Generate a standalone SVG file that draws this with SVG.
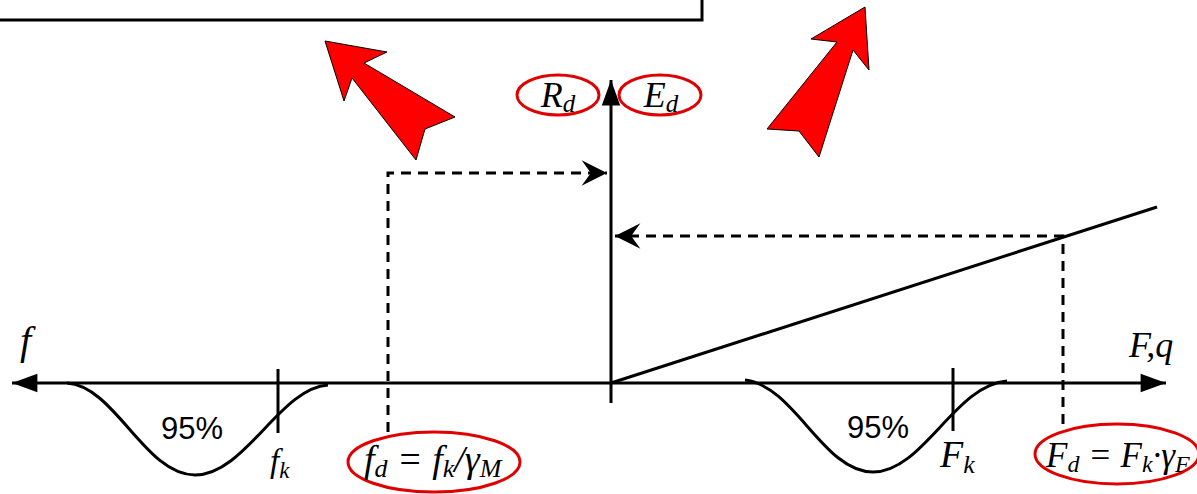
<svg xmlns="http://www.w3.org/2000/svg" width="1197" height="494" viewBox="0 0 1197 494">
<style>
.ln{stroke:#000;stroke-width:3;fill:none}
.ds{stroke:#000;stroke-width:3;fill:none;stroke-dasharray:10,7}
.ra{fill:#ff0000;stroke:#000;stroke-width:1;stroke-linejoin:miter}
.el{fill:none;stroke:#e00000;stroke-width:3}
.m{font-family:"Liberation Serif","Times New Roman",serif;font-style:italic;fill:#000}
.p{font-family:"Liberation Sans",Arial,sans-serif;fill:#000}
</style>
<defs>
<marker id="stealth" markerUnits="userSpaceOnUse" markerWidth="30" markerHeight="30" viewBox="-24 -12 26 24" refX="0" refY="0" orient="auto">
<path d="M0,0 L-22,-11 L-14,0 L-22,11 Z" fill="#000"/>
</marker>
<marker id="tri" markerUnits="userSpaceOnUse" markerWidth="30" markerHeight="30" viewBox="-24 -12 26 24" refX="0" refY="0" orient="auto">
<path d="M0,0 L-22,-8 L-22,8 Z" fill="#000"/>
</marker>
</defs>
<g id="topbox"><rect x="-10" y="-10" width="712" height="30" fill="#fff" stroke="#000" stroke-width="3"/></g>
<g id="redarrow-left"><polygon class="ra" points="325,41 387,52 364,63 455,117 425,129 416,160 352,78 344,101"/></g>
<g id="redarrow-right"><polygon class="ra" points="865,7 869,70 853,50 819,157 799,131 767,129 837,42 811,39"/></g>
<g id="connectors">
<line class="ln" x1="611" y1="403" x2="611" y2="80" marker-end="url(#tri)"/>
<line class="ln" x1="611" y1="383" x2="12" y2="383" marker-end="url(#tri)"/>
<line class="ln" x1="611" y1="383" x2="1166" y2="383" marker-end="url(#tri)"/>
<line class="ln" x1="611" y1="383" x2="1157" y2="207"/>
<polyline class="ds" points="388,432 388,173 607,173" marker-end="url(#stealth)"/>
<polyline class="ds" points="1063,424 1063,236 615,236" marker-end="url(#stealth)"/>
</g>
<g id="bell-left">
<path class="ln" d="M67,383 C115,386 145,475 195,475 C245,475 280,388 328,385"/>
<line class="ln" x1="278" y1="369" x2="278" y2="433"/>
<text class="p" x="161" y="439" font-size="31">95%</text>
</g>
<g id="bell-right">
<path class="ln" d="M745,380 C795,386 823,472 873,472 C923,472 955,385 1007,381"/>
<line class="ln" x1="953" y1="368" x2="953" y2="431"/>
<text class="p" x="847" y="438" font-size="31">95%</text>
</g>
<g id="label-f"><text class="m" x="20" y="354" font-size="40">f</text></g>
<g id="label-fk"><text class="m" x="270" y="472" font-size="33">f<tspan font-size="23" dy="6">k</tspan></text></g>
<g id="label-Fk"><text class="m" x="940" y="467" font-size="38">F<tspan font-size="26" dy="6">k</tspan></text></g>
<g id="label-Fq"><text class="m" x="1129" y="357" font-size="36">F,q</text></g>
<g id="node-Rd">
<ellipse class="el" cx="558" cy="95" rx="41" ry="20"/>
<text class="m" x="558" y="107" font-size="36" text-anchor="middle">R<tspan font-size="25" dy="5">d</tspan></text>
</g>
<g id="node-Ed">
<ellipse class="el" cx="660" cy="95" rx="41" ry="20"/>
<text class="m" x="661" y="107" font-size="36" text-anchor="middle">E<tspan font-size="25" dy="5">d</tspan></text>
</g>
<g id="node-fd">
<ellipse class="el" cx="434" cy="462" rx="86" ry="30"/>
<text class="m" x="364" y="472" font-size="38">f<tspan font-size="26" dy="5">d</tspan><tspan dy="-5"> = f</tspan><tspan font-size="26" dy="5">k</tspan><tspan dy="-5">/γ</tspan><tspan font-size="26" dy="5">M</tspan></text>
</g>
<g id="node-Fd">
<ellipse class="el" cx="1117" cy="454" rx="82" ry="30"/>
<text class="m" x="1046" y="467" font-size="35">F<tspan font-size="24" dy="5">d</tspan><tspan dy="-5"> = F</tspan><tspan font-size="24" dy="5">k</tspan><tspan dy="-5">·γ</tspan><tspan font-size="24" dy="5">F</tspan></text>
</g>
</svg>
